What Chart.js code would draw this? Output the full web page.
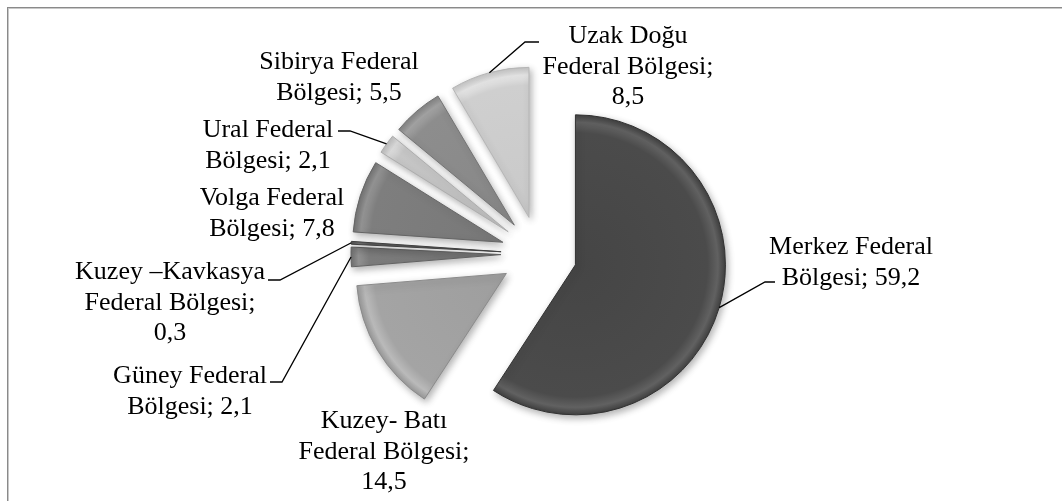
<!DOCTYPE html>
<html>
<head>
<meta charset="utf-8">
<script src="https://cdn.jsdelivr.net/npm/chart.js@4.4.1/dist/chart.umd.min.js"></script>
<style>
  html, body { margin: 0; padding: 0; background: #ffffff; }
  #wrap { width: 1062px; height: 501px; position: relative; }
</style>
</head>
<body>
<div id="wrap"><canvas id="c" width="1062" height="501"></canvas></div>
<script>
// ---- data ----
const categories = [
  "Merkez Federal Bölgesi",
  "Kuzey- Batı Federal Bölgesi",
  "Güney Federal Bölgesi",
  "Kuzey –Kavkasya Federal Bölgesi",
  "Volga Federal Bölgesi",
  "Ural Federal Bölgesi",
  "Sibirya Federal Bölgesi",
  "Uzak Doğu Federal Bölgesi"
];
const values = [59.2, 14.5, 2.1, 0.3, 7.8, 2.1, 5.5, 8.5];
const sliceColors = ["#4b4b4b", "#a4a4a4", "#7c7c7c", "#5a5a5a", "#7e7e7e", "#c6c6c6", "#8d8d8d", "#cfcfcf"];

// ---- style / layout ----
const RADIUS = 150;
const EXPLODE = 38;
const FONT = '26px "Liberation Serif", "Times New Roman", serif';
const LINE_H = 30.5;
const WRAP_W = 200;
// label placement: centre x, first baseline y, optional leader [elbow, end]
const labelLayout = [
  { cx: 851, by: 254, leader: [[765, 282], [775, 282]] },
  { cx: 384, by: 428 },
  { cx: 190, by: 383, leader: [[282, 382], [270, 382]] },
  { cx: 170, by: 279, leader: [[280, 280], [268, 280]] },
  { cx: 272, by: 205 },
  { cx: 268, by: 137, leader: [[350, 131], [338, 131]] },
  { cx: 339, by: 69 },
  { cx: 628, by: 43, leader: [[525, 42], [539, 42]] }
];

function shade(hex, amt) {
  const v = parseInt(hex.slice(1, 3), 16);
  const n = Math.max(0, Math.min(255, v + amt));
  const h = n.toString(16).padStart(2, '0');
  return '#' + h + h + h;
}

function wrapText(ctx, text, maxW) {
  const words = text.split(' ');
  const lines = [];
  let cur = '';
  words.forEach(w => {
    const test = cur ? cur + ' ' + w : w;
    if (cur && ctx.measureText(test).width > maxW) {
      lines.push(cur);
      cur = w;
    } else {
      cur = test;
    }
  });
  if (cur) lines.push(cur);
  return lines;
}

const explodePlugin = {
  id: 'explode',
  beforeDraw(chart) {
    const ctx = chart.ctx;
    ctx.save();
    ctx.fillStyle = '#ffffff';
    ctx.fillRect(0, 0, chart.width, chart.height);
    ctx.lineWidth = 1;
    ctx.strokeStyle = '#8a8a8a';
    ctx.strokeRect(7.5, 7.5, 1200, 800);
    ctx.strokeStyle = '#c8c8c8';
    ctx.strokeRect(8.5, 8.5, 1200, 800);
    ctx.restore();
  },
  beforeDatasetDraw(chart, args) {
    const ctx = chart.ctx;
    args.meta.data.forEach(arc => {
      const mid = (arc.startAngle + arc.endAngle) / 2;
      ctx.save();
      ctx.translate(Math.cos(mid) * EXPLODE, Math.sin(mid) * EXPLODE);
      ctx.shadowColor = 'rgba(0,0,0,0.30)';
      ctx.shadowBlur = 7;
      ctx.shadowOffsetX = 2;
      ctx.shadowOffsetY = 3;
      arc.draw(ctx);
      ctx.restore();
    });
    return false;
  },
  afterDraw(chart) {
    const ctx = chart.ctx;
    const meta = chart.getDatasetMeta(0);
    ctx.save();
    ctx.font = FONT;
    ctx.fillStyle = '#000000';
    ctx.strokeStyle = '#000000';
    ctx.lineWidth = 1.3;
    ctx.textAlign = 'center';
    ctx.textBaseline = 'alphabetic';
    meta.data.forEach((arc, i) => {
      const lay = labelLayout[i];
      const mid = (arc.startAngle + arc.endAngle) / 2;
      const r = arc.outerRadius + EXPLODE;
      const sx = arc.x + Math.cos(mid) * r;
      const sy = arc.y + Math.sin(mid) * r;
      if (lay.leader) {
        ctx.beginPath();
        ctx.moveTo(sx, sy);
        lay.leader.forEach(p => ctx.lineTo(p[0], p[1]));
        ctx.stroke();
      }
      const text = categories[i] + '; ' + String(values[i]).replace('.', ',');
      const lines = wrapText(ctx, text, WRAP_W);
      lines.forEach((ln, k) => ctx.fillText(ln, lay.cx, lay.by + k * LINE_H));
    });
    ctx.restore();
  }
};

new Chart(document.getElementById('c'), {
  type: 'pie',
  data: {
    labels: categories,
    datasets: [{
      data: values,
      backgroundColor: (c) => {
        const base = sliceColors[c.dataIndex];
        const area = c.chart.chartArea;
        if (!area) return base;
        const cx = (area.left + area.right) / 2;
        const cy = (area.top + area.bottom) / 2;
        const g = c.chart.ctx.createRadialGradient(cx, cy, 0, cx, cy, RADIUS);
        g.addColorStop(0, shade(base, -6));
        g.addColorStop(0.88, base);
        g.addColorStop(0.95, shade(base, 22));
        g.addColorStop(1, shade(base, -10));
        return g;
      },
      borderColor: sliceColors.map(col => shade(col, -25)),
      borderWidth: 1,
      offset: 0,
      hoverOffset: 0
    }]
  },
  options: {
    responsive: false,
    animation: false,
    radius: RADIUS,
    rotation: 0,
    layout: { padding: { left: 16, right: 0, top: 7, bottom: 0 } },
    plugins: {
      legend: { display: false },
      tooltip: { enabled: false }
    },
    events: []
  },
  plugins: [explodePlugin]
});
</script>
</body>
</html>
